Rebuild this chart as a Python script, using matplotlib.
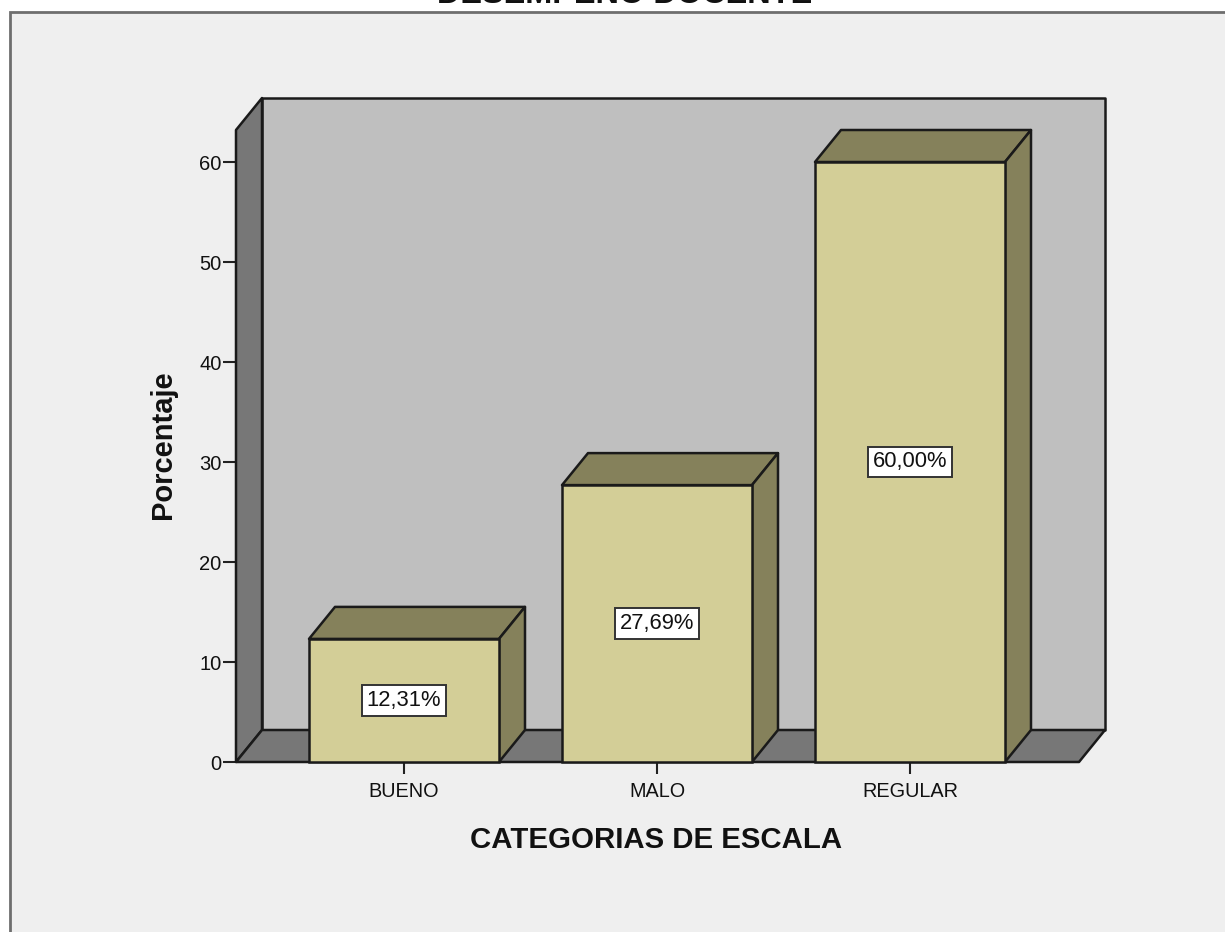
import matplotlib
matplotlib.use("Agg")
import matplotlib.pyplot as plt
from matplotlib.patches import Polygon, Rectangle

categories = ["BUENO", "MALO", "REGULAR"]
values = [12.31, 27.69, 60.00]
y_ticks = [0, 10, 20, 30, 40, 50, 60]

W, H = 1225, 932
plt.rcParams["font.family"] = ["Liberation Sans", "DejaVu Sans"]

fig = plt.figure(figsize=(W / 100, H / 100), dpi=100, facecolor="white")

# panel gris de fond, il depasse a droite et en bas
fig.patches.append(Rectangle((10 / W, -0.01), 1.1, 1.01 - 11.5 / H, transform=fig.transFigure,
                             facecolor="#EFEFEF", edgecolor="#6E6E6E", linewidth=2, zorder=-1))

# plan avant du graphique en pixels
left, right, bottom, top = 236, 1079, 762, 130
ax = fig.add_axes([left / W, 1 - bottom / H, (right - left) / W, (bottom - top) / H])
ax.patch.set_visible(False)
for s in ax.spines.values():
    s.set_visible(False)

xmin, xmax = -0.664, 2.668
ymax = 63.2
ax.set_xlim(xmin, xmax)
ax.set_ylim(0, ymax)

# profondeur 3D
dx = 26 / 253
dy = 3.2
line = "#1A1A1A"
lw = 1.8


def face(pts, color, z):
    ax.add_patch(Polygon(pts, closed=True, facecolor=color, edgecolor=line, linewidth=lw,
                         joinstyle="round", clip_on=False, zorder=z))


face([(xmin + dx, dy), (xmax + dx, dy), (xmax + dx, ymax + dy), (xmin + dx, ymax + dy)], "#BFBFBF", 1)
face([(xmin, 0), (xmin + dx, dy), (xmin + dx, ymax + dy), (xmin, ymax)], "#777777", 2)
face([(xmin, 0), (xmax, 0), (xmax + dx, dy), (xmin + dx, dy)], "#777777", 2)

bar_w = 190 / 253
for i, v in enumerate(values):
    l, r = i - bar_w / 2, i + bar_w / 2
    face([(l, v), (r, v), (r + dx, v + dy), (l + dx, v + dy)], "#85815B", 3)
    face([(r, 0), (r + dx, dy), (r + dx, v + dy), (r, v)], "#85815B", 3)
    ax.bar(i, v, width=bar_w, color="#D3CE97", edgecolor=line, linewidth=lw, zorder=4, clip_on=False)
    ax.text(i, v / 2, f"{v:.2f}%".replace(".", ","), ha="center", va="center", fontsize=15.8,
            color="#111111", zorder=5,
            bbox=dict(boxstyle="square,pad=0.22", facecolor="white", edgecolor="#333333", linewidth=1.4))

ax.set_xticks(range(len(categories)))
ax.set_xticklabels(categories)
ax.set_yticks(y_ticks)
ax.tick_params(axis="x", length=8.5, width=1.5, color="#222222", labelsize=14.3, pad=6, labelcolor="#111111")
ax.tick_params(axis="y", length=9.5, width=1.5, color="#222222", labelsize=14.5, pad=1, labelcolor="#111111")

# textes places en pixels
fig.text(656 / W, 1 - 840 / H, "CATEGORIAS DE ESCALA", ha="center", va="center", fontsize=21.2, fontweight="bold", color="#111111")
fig.text(163 / W, 1 - 445 / H, "Porcentaje", ha="center", va="center", rotation=90, fontsize=21, fontweight="bold", color="#111111")
fig.text(625 / W, 1 - 3 / H, "DESEMPEÑO DOCENTE", ha="center", va="baseline", fontsize=23.4, fontweight="bold", color="#111111")

fig.savefig("out.png", dpi=100)
